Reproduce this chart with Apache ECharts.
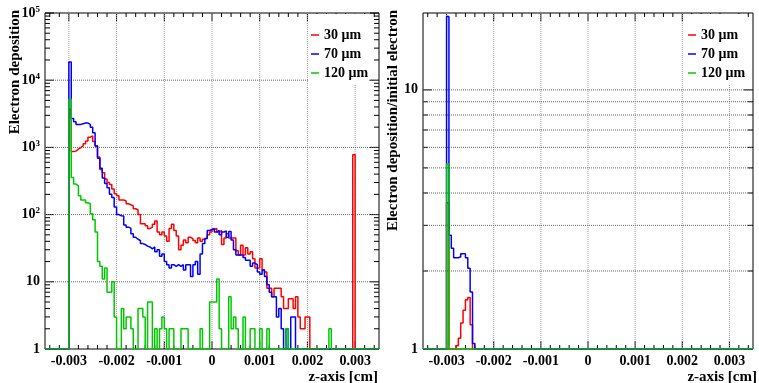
<!DOCTYPE html>
<html><head><meta charset="utf-8">
<script src="https://cdn.jsdelivr.net/npm/echarts@6/dist/echarts.min.js"></script>
<style>html,body{margin:0;padding:0;background:#fff}#c{width:759px;height:383px}</style>
</head><body><div id="c"></div>
<script>
// ---- data (bins of width 0.00005 cm starting at z = -0.003 cm) ----
const binStart = -0.003;
const binWidth = 0.00005;
const nBins = 120;
const seriesNames = ['30 \u03bcm', '70 \u03bcm', '120 \u03bcm'];
const seriesColors = ['#ff0000', '#0000ff', '#00c800'];

// Left panel: Electron deposition
const red = [3700,870,880,940,990,1050,1130,1250,1420,1480, 1220,1050,720,470,420,340,300,280,240,205,
  190,165,165,160,145,140,135,122,118,100, 73,73,68,62,65,72,80,55,50,55,
  48,40,62,72,58,48,30,35,42,38, 46,44,41,38,45,40,43,45,50,55,
  60,62,55,58,36,45,52,45,45,45, 29,25,35,25,32,26,28,22,16,16,
  22,15,14,8,8,6,8,8,8,6, 4,4,5.6,5.6,4,6,3,2,2,3,
  3,0,0,0,0,0,0,0,0,0, 0,0,0,0,0,0,0,0,0,780];
const blue = [18700,2700,2400,2200,2200,2250,2300,2300,2200,2000, 1650,1050,690,490,350,290,250,200,180,130,
  100,96,95,70,65,63,52,46,43,41, 37,36,34,33,31,33,28,30,24,26,
  20,18,16,18,17,18,17,18,15,18, 18,12,18,20,13,26,37,44,58,60,
  62,55,58,50,55,57,46,56,42,30, 25,25,25,23,21,21,17,19,18,14,
  13,15,12,9,7,6,6,3,4,2, 0,2,0,3,3,0,0,0,0,0,
  0,0,0,0,0,0,0,0,0,0, 0,0,0,0,0,0,0,0,0,0];
const green = [5200,357,285,270,190,165,165,150,145,103, 84,55,20,17,11,16,7,7,10,3,
  0,0,4,2,3,3,2,0,0,4, 4,3,0,5,5,0,2,0,2,3,
  2,0,2,2,0,0,0,2,2,2, 0,0,0,0,0,2,0,0,0,5,
  5,5,11,2,0,0,0,6,2,3, 2,0,0,3,0,0,2,2,0,0,
  2,0,0,2,0,0,0,0,0,0, 0,2,0,0,0,0,0,0,0,0,
  0,0,0,0,0,0,0,0,0,2, 0,0,0,0,0,0,0,0,0,0];

// Right panel: Electron deposition / initial electron (bins above the axis minimum)
const redNorm = [3.67,0,0,0,1.03,1.10,1.26,1.41,1.55,1.58, 1.24];
const blueNorm = [19.2,2.75,2.45,2.25,2.25,2.27,2.33,2.33,2.25,2.05, 1.66,1.05];
const greenNorm = [5.18];

// Axis ticks / labels
const xTickValues = [-0.003, -0.002, -0.001, 0, 0.001, 0.002, 0.003];
const xTickLabels = ['-0.003', '-0.002', '-0.001', '0', '0.001', '0.002', '0.003'];
const yTickValuesLeft = [1, 10, 100, 1000, 10000, 100000];
const yTickLabelsLeft = ['1', '10', '10^2', '10^3', '10^4', '10^5'];
const yTickValuesRight = [1, 10];
const yTickLabelsRight = ['1', '10'];
const xRange = [-0.0035, 0.0035];
const yRangeLeft = [1, 100000];
const yRangeRight = [1, 19.8];

const FONT = '"Liberation Serif", "Times New Roman", serif';

function stepPoints(vals, floor) {
  const pts = [[xRange[0], floor]];
  for (let j = 0; j < nBins; j++) {
    const v = vals[j] === undefined ? 0 : vals[j];
    pts.push([binStart + j * binWidth, Math.max(v, floor)]);
  }
  pts.push([binStart + nBins * binWidth, floor]);
  pts.push([xRange[1], floor]);
  return pts;
}

function decoData(yMajor, yMinor, yGrid, yMin) {
  const d = [];
  for (let i = -17; i <= 17; i++) {
    const v = i * 0.0002;
    const major = (i % 5 === 0);
    d.push([v, yMin, 0, major ? 8 : 4]);
  }
  xTickValues.forEach(v => d.push([v, yMin, 2, 0]));
  yMajor.forEach(v => d.push([0, v, 1, 9]));
  yMinor.forEach(v => d.push([0, v, 1, 5]));
  yGrid.forEach(v => d.push([0, v, 3, 0]));
  return d;
}

function renderDeco(params, api) {
  const cs = params.coordSys;
  const kind = api.value(2), len = api.value(3);
  const top = cs.y, bot = cs.y + cs.height, L = cs.x, R = cs.x + cs.width;
  const p = api.coord([api.value(0), api.value(1)]);
  if (kind === 2) {
    return {type: 'line', silent: true, shape: {x1: p[0], y1: top, x2: p[0], y2: bot},
      style: {stroke: '#9a9a9a', lineWidth: 1, lineDash: [1, 1]}};
  }
  if (kind === 3) {
    return {type: 'line', silent: true, shape: {x1: L, y1: p[1], x2: R, y2: p[1]},
      style: {stroke: '#666', lineWidth: 1, lineDash: [1, 1]}};
  }
  if (kind === 0) {
    return {type: 'group', children: [
      {type: 'line', shape: {x1: p[0], y1: bot, x2: p[0], y2: bot - len}, style: {stroke: '#000', lineWidth: 1}},
      {type: 'line', shape: {x1: p[0], y1: top, x2: p[0], y2: top + len}, style: {stroke: '#000', lineWidth: 1}}
    ]};
  }
  return {type: 'group', children: [
    {type: 'line', shape: {x1: L, y1: p[1], x2: L + len, y2: p[1]}, style: {stroke: '#000', lineWidth: 1}},
    {type: 'line', shape: {x1: R, y1: p[1], x2: R - len, y2: p[1]}, style: {stroke: '#000', lineWidth: 1}}
  ]};
}

const leftMinor = [];
for (let d = 0; d < 5; d++) for (let m = 2; m <= 9; m++) leftMinor.push(m * Math.pow(10, d));
const rightMinor = [2, 3, 4, 5, 6, 7, 8, 9];

function xLabel(v) {
  const i = xTickValues.findIndex(t => Math.abs(t - v) < 1e-9);
  return i >= 0 ? xTickLabels[i] : '';
}
function yLabel(vals, labels) {
  return function (v) {
    const i = vals.findIndex(t => Math.abs(t - v) / t < 1e-6);
    if (i < 0) return '';
    const s = labels[i];
    if (s.indexOf('^') >= 0) {
      const parts = s.split('^');
      return '{b|' + parts[0] + '}{s|' + parts[1] + '}';
    }
    return s;
  };
}
const labelStyle = {fontFamily: FONT, fontWeight: 'bold', fontSize: 14, color: '#000'};
const richSup = {
  b: {fontFamily: FONT, fontWeight: 'bold', fontSize: 14, color: '#000', lineHeight: 16},
  s: {fontFamily: FONT, fontWeight: 'bold', fontSize: 9, color: '#000', lineHeight: 9, verticalAlign: 'top'}
};

function xAxisCfg(gi) {
  return {gridIndex: gi, type: 'value', min: xRange[0], max: xRange[1],
    axisLine: {show: false}, axisTick: {show: false}, splitLine: {show: false},
    axisLabel: Object.assign({customValues: xTickValues, formatter: xLabel, margin: 5}, labelStyle)};
}
function yAxisCfg(gi, range, vals, labels) {
  return {gridIndex: gi, type: 'log', logBase: 10, min: range[0], max: range[1],
    axisLine: {show: false}, axisTick: {show: false}, splitLine: {show: false}, minorTick: {show: false},
    axisLabel: Object.assign({customValues: vals, formatter: yLabel(vals, labels), margin: 5,
      showMaxLabel: true, rich: richSup}, labelStyle)};
}

const series = [];
series.push({type: 'custom', xAxisIndex: 0, yAxisIndex: 0, z: 1, silent: true, renderItem: renderDeco,
  data: decoData(yTickValuesLeft, leftMinor, [10, 100, 1000, 10000], 1), encode: {x: 0, y: 1}});
series.push({type: 'custom', xAxisIndex: 1, yAxisIndex: 1, z: 1, silent: true, renderItem: renderDeco,
  data: decoData(yTickValuesRight, rightMinor, [2, 3, 4, 5, 6, 7, 8, 9, 10], 1), encode: {x: 0, y: 1}});
const leftSets = [red, blue, green];
const rightSets = [redNorm, blueNorm, greenNorm];
for (let i = 0; i < 3; i++) {
  series.push({type: 'line', name: seriesNames[i], xAxisIndex: 0, yAxisIndex: 0, step: 'end', z: 3 + i,
    showSymbol: false, symbol: 'none', clip: true, data: stepPoints(leftSets[i], 1),
    lineStyle: {color: seriesColors[i], width: 1.5}, itemStyle: {color: seriesColors[i]}});
}
for (let i = 0; i < 3; i++) {
  series.push({type: 'line', name: seriesNames[i], xAxisIndex: 1, yAxisIndex: 1, step: 'end', z: 3 + i,
    showSymbol: false, symbol: 'none', clip: true, data: stepPoints(rightSets[i], 1),
    lineStyle: {color: seriesColors[i], width: 1.5}, itemStyle: {color: seriesColors[i]}});
}

function legendCfg(left) {
  return {data: seriesNames, left: left, top: 14, orient: 'vertical', icon: 'rect',
    itemWidth: 8, itemHeight: 1.5, itemGap: 5, padding: [14, 0, 4, 2], backgroundColor: '#fff',
    selectedMode: false, z: 10,
    textStyle: {fontFamily: FONT, fontWeight: 'bold', fontSize: 14, color: '#000', lineHeight: 14}};
}

const titleFont = 'bold 15px ' + FONT;
const option = {
  animation: false,
  backgroundColor: '#fff',
  grid: [
    {left: 45, top: 13, width: 334, height: 336, show: true, borderColor: '#000', borderWidth: 1, backgroundColor: 'transparent', outerBoundsMode: 'none'},
    {left: 423, top: 13, width: 330, height: 336, show: true, borderColor: '#000', borderWidth: 1, backgroundColor: 'transparent', outerBoundsMode: 'none'}
  ],
  xAxis: [xAxisCfg(0), xAxisCfg(1)],
  yAxis: [yAxisCfg(0, yRangeLeft, yTickValuesLeft, yTickLabelsLeft), yAxisCfg(1, yRangeRight, yTickValuesRight, yTickLabelsRight)],
  legend: [legendCfg(309), legendCfg(686)],
  graphic: [
    {type: 'text', x: 15, y: 10, rotation: Math.PI / 2, z: 20,
      style: {text: 'Electron deposition', font: titleFont, fill: '#000', align: 'right', verticalAlign: 'middle', textAlign: 'right', textVerticalAlign: 'middle'}},
    {type: 'text', x: 393, y: 10, rotation: Math.PI / 2, z: 20,
      style: {text: 'Electron deposition/initial electron', font: titleFont, fill: '#000', align: 'right', verticalAlign: 'middle', textAlign: 'right', textVerticalAlign: 'middle'}},
    {type: 'text', x: 378, y: 377, z: 20,
      style: {text: 'z-axis [cm]', font: titleFont, fill: '#000', align: 'right', verticalAlign: 'middle', textAlign: 'right', textVerticalAlign: 'middle'}},
    {type: 'text', x: 757, y: 377, z: 20,
      style: {text: 'z-axis [cm]', font: titleFont, fill: '#000', align: 'right', verticalAlign: 'middle', textAlign: 'right', textVerticalAlign: 'middle'}}
  ],
  series: series
};
const chart = echarts.init(document.getElementById('c'), null, {renderer: 'canvas'});
chart.setOption(option);
</script>
</body></html>
